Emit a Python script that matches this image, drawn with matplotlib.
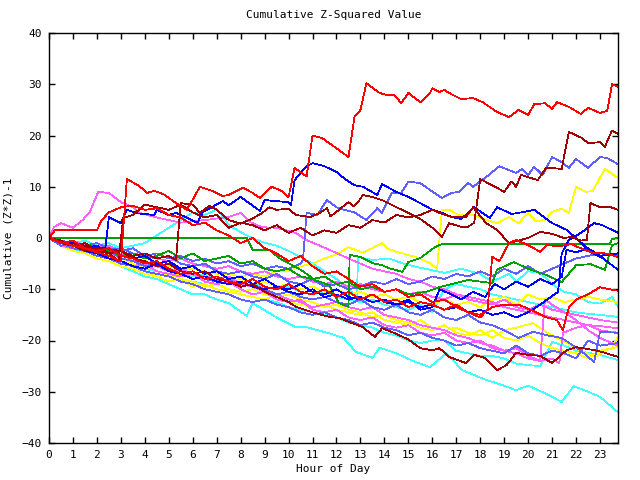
"""Cumulative Z-squared value per hour of day, gnuplot-style line chart."""

import matplotlib

matplotlib.use("Agg")
import matplotlib.pyplot as plt  # noqa: E402

# colours used by the original gnuplot terminal
RED = "#ff0000"
DARKRED = "#a00000"
GREEN = "#00a000"
BLUE = "#0000ff"
LIGHTBLUE = "#6060ff"
MAGENTA = "#ff60ff"
CYAN = "#40ffff"
YELLOW = "#ffff00"

# each series: (hour, cumulative value) points
red_top = [(0, 0), (0.5, -0.8), (1, -1.5), (1.5, -2), (2, -2.8), (2.5, -3.5), (3.0, -4.6),
           (3.25, 11.5), (3.75, 10.2), (4.1, 8.8), (4.4, 9.2), (4.8, 8.5), (5.3, 6.8),
           (5.75, 5.5), (6.0, 7.5), (6.3, 10), (6.75, 9.3), (7.25, 8.2), (7.5, 8.4),
           (8.1, 9.8), (8.5, 8.8), (8.8, 7.8), (9.3, 10), (9.7, 9.2), (10.0, 8),
           (10.25, 13.7), (10.6, 12.5), (10.75, 12), (11.0, 20), (11.4, 19.5), (12.0, 17.5),
           (12.5, 15.8), (12.75, 23.6), (13.0, 25), (13.25, 30.2), (13.8, 28.3), (14.1, 27.9),
           (14.4, 28), (14.7, 26.3), (15, 28.3), (15.5, 26.5), (15.9, 28.3), (16.0, 29.2),
           (16.3, 28.5), (16.5, 28.9), (16.7, 28.3), (17.2, 27.1), (17.7, 27.3), (18.1, 26.5),
           (18.7, 24.6), (19.2, 23.6), (19.6, 25), (20, 24), (20.25, 26.1), (20.7, 26.3),
           (21, 25.2), (21.2, 26.5), (21.7, 25.6), (22.2, 24.2), (22.5, 25.4), (23, 24.4),
           (23.3, 24.8), (23.5, 30), (23.75, 29.5)]

red_mid = [(0, 0), (0.25, 1.5), (1, 1.5), (2, 1.5), (2.2, 3.5), (2.5, 5), (3, 6), (3.5, 6.3),
           (4, 5.5), (4.5, 5.8), (5, 4.5), (5.5, 4), (6, 2.5), (6.5, 3), (7, 1.5), (7.5, 0.5),
           (8, -1), (8.5, 0), (9, -2), (9.5, -3), (10, -4.5), (10.5, -3.5), (11, -5.5),
           (11.5, -7), (12, -6.5), (12.5, -8), (13, -9.5), (13.5, -9), (14, -10.5), (14.5, -10),
           (15, -11.5), (15.5, -11), (16, -12.5), (16.5, -12), (17, -13.5), (17.5, -14.5),
           (18, -15), (18.5, -13.5), (19, -13), (19.6, -13), (20.3, -14.4), (20.7, -15.4),
           (21.2, -16), (21.45, -18), (21.7, -13.5), (22, -12), (22.5, -11), (23, -9.6),
           (23.4, -10), (23.75, -10.3)]

red_low = [(0, 0), (0.5, -1), (1, -0.5), (1.5, -2), (2, -2.5), (2.5, -2), (3, -3.5), (3.5, -4),
           (4, -5), (4.5, -4.5), (5, -6), (5.5, -7), (6, -6.5), (6.5, -8), (7, -7.5), (7.5, -8.5),
           (8, -9), (8.5, -8), (9, -9.5), (9.5, -10), (10, -9), (10.5, -10.5), (11, -11),
           (11.5, -10), (12, -11.5), (12.5, -10.5), (13, -12), (13.5, -11), (14, -12.5),
           (14.5, -12), (15, -13.5), (15.5, -12.5), (16, -13), (16.5, -14), (17, -13),
           (17.5, -14.5), (18, -15.5), (18.3, -14), (18.5, -3.7), (18.8, -4.5), (19.2, -1),
           (19.5, -0.4), (20, -1.4), (20.5, -2.7), (20.8, -1.4), (21.3, -1.6), (21.8, -1.2),
           (22.2, -2), (22.7, -2.9), (23.2, -3), (23.75, -3.7)]

darkred_high = [(0, 0), (0.5, -0.5), (1, -1.5), (2, -2), (3, -2.5), (3.5, -3.5), (4, -3),
                (4.5, -4), (5, -3.5), (5.3, -4.3), (5.5, 6.8), (6, 6.5), (6.3, 4.9), (6.7, 6.3),
                (7, 5.5), (7.5, 3.5), (8, 2.8), (8.5, 3.8), (8.9, 4.9), (9.2, 6), (9.5, 5.5),
                (10, 5.7), (10.3, 4.5), (10.9, 4.1), (11.3, 4.9), (11.6, 5.8), (11.75, 4.2),
                (12.1, 5.5), (12.5, 7), (12.7, 6.2), (12.9, 7), (13.1, 8.4), (13.5, 8), (13.9, 7.4),
                (14.5, 6), (15.0, 4.9), (15.5, 3.7), (16, 2), (16.4, 0.2), (16.7, 2.9),
                (17.25, 2.1), (17.5, 2.2), (17.75, 3), (18.0, 11.5), (18.7, 9.8), (19, 9),
                (19.3, 11), (19.5, 10), (19.7, 12.3), (20.4, 11.3), (20.75, 13.7), (21.4, 13.5),
                (21.7, 20.7), (22.25, 19.5), (22.5, 18.5), (23.0, 18.7), (23.2, 17.8), (23.5, 21),
                (23.75, 20.3)]

darkred_mid = [(0, 0), (0.5, -1), (1, -1.5), (1.5, -2.5), (2, -2), (2.5, -3), (2.9, -4.5),
               (3.1, 3.9), (3.5, 4.5), (4, 6.5), (4.5, 6), (5, 5.5), (5.5, 6.5), (6, 5), (6.5, 4),
               (7, 4.5), (7.5, 2), (8, 3), (8.5, 2.5), (9, 1.5), (9.5, 2.5), (10, 1), (10.5, 2),
               (11, 0.5), (11.5, 1.5), (12, 1), (12.5, 2.5), (13, 2), (13.5, 3.5), (14, 3),
               (14.5, 4.5), (15, 4), (15.5, 4.5), (16, 5.5), (16.3, 4.9), (16.8, 4.1), (17.4, 4.1),
               (17.7, 6), (18.25, 2.9), (18.7, 1.6), (19.2, -1), (19.6, -0.5), (20, 0), (20.5, 1.2),
               (21, 0.8), (21.5, 0), (21.8, 0.2), (22.2, -0.5), (22.45, -0.4), (22.6, 6.8),
               (23, 6), (23.4, 6.1), (23.75, 5.5)]

darkred_low = [(0, 0), (0.5, -0.8), (1, -1.5), (1.5, -1), (2, -2.5), (2.5, -3), (3, -2.5),
               (3.5, -4), (4, -4.5), (4.5, -5.5), (5, -5), (5.5, -6.5), (6, -7), (6.5, -6.5),
               (7, -8), (7.5, -8.5), (8, -9.5), (8.5, -9), (9, -10.5), (9.5, -11.5), (10, -12.5),
               (10.3, -13.4), (11, -14.5), (11.7, -15.4), (12.1, -15.6), (12.6, -16.5),
               (13.1, -17.4), (13.6, -19.3), (13.9, -17.6), (14.4, -18.5), (15, -19.8),
               (15.5, -21.5), (16, -21.9), (16.3, -21.5), (16.7, -23.2), (17.4, -24.4),
               (17.75, -22.8), (18.2, -23.4), (18.7, -25.8), (19.1, -24.8), (19.5, -22.4),
               (20, -22.8), (20.5, -23), (21, -24.4), (21.6, -21.9), (22, -21.3), (22.8, -21.9),
               (23.2, -22.4), (23.75, -23.2)]

blue_high = [(0, 0), (0.5, -0.8), (1, -1), (1.5, -1.5), (2, -1.8), (2.35, -2), (2.5, 4.1),
             (3, 2.9), (3.25, 5.5), (3.7, 4.8), (4.4, 4.5), (4.5, 5.5), (5, 4.5), (5.3, 4.9),
             (5.8, 3.9), (6.2, 2.9), (6.4, 5), (7.25, 7.2), (7.5, 6.4), (8, 8), (8.8, 5.3),
             (9, 7.4), (10, 7), (10.1, 6.4), (10.25, 11.3), (10.75, 14), (11, 14.6), (11.5, 14),
             (12, 12.9), (12.3, 11.7), (12.75, 10.3), (13.1, 10), (13.4, 9.2), (13.7, 8.4),
             (13.9, 10.5), (14.5, 9), (15, 8), (15.5, 6.8), (16, 5.5), (16.4, 4.9), (16.8, 4.1),
             (17.2, 3.7), (17.75, 6), (18.4, 3.9), (18.7, 6), (19.3, 4.7), (19.6, 4.9),
             (20.25, 5.5), (21, 2.9), (21.6, 1.6), (22.1, -0.4), (22.6, -2.7), (23.1, -3.9),
             (23.75, -6.2)]

blue_rise = [(0, 0), (0.5, -1), (1, -1.5), (1.5, -2.5), (2, -3), (2.5, -4), (3, -4.5), (3.5, -5.5),
             (4, -6), (4.5, -5), (5, -6.5), (5.5, -7), (6, -8), (6.5, -7.5), (7, -8.5), (7.5, -9),
             (8, -8.5), (8.5, -9.5), (9, -10), (9.5, -9.5), (10, -10.5), (10.5, -11), (11, -10),
             (11.5, -11.5), (12, -11), (12.5, -12), (13, -11.5), (13.5, -12.5), (14, -12),
             (14.5, -13), (15, -12.5), (15.5, -13.5), (16, -13), (16.5, -14), (17, -13.5),
             (17.5, -14.5), (18, -14), (18.5, -15), (19, -14.5), (19.5, -15.5), (20, -14.5),
             (20.5, -13), (20.8, -12), (21.25, -10.5), (21.4, -3), (21.7, -0.4), (22.2, 1),
             (22.75, 2.9), (23.1, 2.5), (23.75, 1)]

blue_mid = [(0, 0), (0.5, -0.5), (1, -1.5), (1.5, -2), (2, -1.5), (2.5, -3), (3, -2.5), (3.5, -4),
            (4, -3.5), (4.5, -5), (5, -4.5), (5.5, -6), (6, -5.5), (6.5, -7), (7, -6.5), (7.5, -8),
            (8, -7.5), (8.5, -9), (9, -8), (9.5, -9.5), (10, -10), (10.5, -9), (11, -10.5),
            (11.5, -11), (12, -10), (12.5, -11.5), (13, -12), (13.5, -11), (14, -12.5),
            (14.5, -13), (15, -12), (15.5, -14), (16, -13.5), (16.3, -10), (16.8, -11),
            (17.2, -12), (17.7, -10.5), (18.2, -11.5), (18.6, -9), (19, -10), (19.5, -8.5),
            (20, -9.5), (20.5, -8), (21, -9), (21.4, -7.6), (21.6, -2.3), (22, -2.8), (22.5, -2),
            (23, -3.5), (23.75, -3)]

lightblue_high = [(0, 0), (0.5, -1), (1, -1.5), (1.5, -1), (2, -2), (2.5, -2.5), (3, -2),
                  (3.5, -3), (4, -3.5), (4.5, -3), (5, -4), (5.5, -3.5), (6, -4.5), (6.5, -4),
                  (7, -5), (7.5, -4.5), (8, -5.5), (8.5, -5), (9, -6), (9.5, -5.5), (10, -6),
                  (10.5, -5), (10.6, -4.3), (10.75, 4.9), (11.2, 4.5), (11.6, 7.4), (12, 6),
                  (12.3, 5.5), (12.75, 5), (13.25, 3.5), (13.7, 5.8), (13.9, 4.9), (14.3, 8.8),
                  (14.7, 8.8), (15, 11), (15.5, 10.7), (15.9, 9.4), (16.4, 7.8), (16.8, 8.8),
                  (17.1, 9), (17.5, 10.7), (17.7, 10), (18.25, 11.9), (18.8, 14), (19.5, 12.7),
                  (19.75, 13.5), (20, 12.3), (20.25, 13.9), (20.6, 12.3), (21, 15.8), (21.4, 14.8),
                  (21.7, 13.7), (22, 15.4), (22.5, 13.7), (23, 15.8), (23.3, 15.6), (23.75, 14.4)]

lightblue_b = [(0, 0), (0.5, -1.5), (1, -1), (1.5, -2.5), (2, -3), (2.5, -2.5), (3, -4), (3.5, -4.5),
               (4, -5.5), (4.5, -5), (5, -6.5), (5.5, -7), (6, -6.5), (6.5, -8), (7, -8.5),
               (7.5, -8), (8, -9.5), (8.5, -9), (9, -10), (9.5, -11), (10, -10.5), (10.5, -11.5),
               (11, -12), (11.5, -11.5), (12, -12.5), (12.5, -13), (13, -12), (13.5, -13.5),
               (14, -14), (14.5, -13), (15, -14.5), (15.5, -15), (16, -14), (16.5, -15.5),
               (17, -16), (17.5, -15), (18, -16.5), (18.5, -17), (19, -18), (19.6, -19.5),
               (20.2, -18.3), (20.8, -19), (21.4, -19.5), (22.2, -22), (22.75, -24.2), (23, -18.3),
               (23.75, -18.5)]

lightblue_c = [(0, 0), (0.5, -0.5), (1, -1), (1.5, -1.5), (2, -1), (2.5, -2), (3, -2.5), (3.5, -2),
               (4, -3.5), (4.5, -4), (5, -3.5), (5.5, -5), (6, -5.5), (6.5, -5), (7, -6.5),
               (7.5, -7), (8, -6.5), (8.5, -7.5), (9, -8), (9.5, -7), (10, -8.5), (10.5, -9),
               (11, -8), (11.5, -9.5), (12, -9), (12.5, -10), (13, -9.5), (13.5, -8.5), (14, -9),
               (14.5, -8), (15, -9), (15.5, -8.5), (16, -7.5), (16.5, -8), (17, -7),
               (17.5, -7.5), (18, -6.5), (18.5, -7.5), (19, -6), (19.5, -7), (20, -5.5),
               (20.5, -7), (21, -6), (21.5, -5), (22, -4), (22.5, -3.5), (23, -3), (23.75, -3.3)]

lightblue_d = [(0, 0), (0.5, -1), (1, -2), (1.5, -2.5), (2, -3.5), (2.5, -4), (3, -5), (3.5, -5.5),
               (4, -6.5), (4.5, -7), (5, -7.5), (5.5, -8.5), (6, -9), (6.5, -10), (7, -10.5),
               (7.5, -11), (8, -12), (8.5, -12.5), (9, -12), (9.5, -13), (10, -13.5), (10.5, -14.5),
               (11, -15), (11.5, -14.5), (12, -15.5), (12.5, -16), (13, -17), (13.5, -16.5),
               (14, -17.5), (14.5, -18), (15, -19), (15.5, -18.5), (16, -19.5), (16.5, -20),
               (17, -21), (17.5, -20.5), (18, -21.5), (18.5, -22), (19, -22.5), (19.5, -21),
               (20, -22.5), (20.5, -23), (21, -22), (21.5, -22.5), (22, -23.5), (22.5, -20),
               (23, -21), (23.75, -20.5)]

yellow_high = [(0, 0), (0.5, -1), (1, -2), (1.5, -2.5), (2, -3), (2.5, -3.5), (3, -4), (3.5, -4.5),
               (4, -4.5), (4.5, -5), (5, -5.5), (5.5, -6), (6, -6), (6.5, -6.5), (7, -7), (7.5, -7),
               (8, -7.5), (8.5, -7), (9, -7.5), (9.5, -6.5), (10, -6.5), (10.5, -5.5), (11, -5),
               (11.5, -4), (12.1, -3), (12.5, -1.8), (13.1, -2.9), (13.5, -2), (13.9, -1),
               (14.1, -2), (14.5, -2.7), (15.3, -3.7), (15.9, -4.9), (16.2, -6), (16.4, 5.5),
               (16.7, 5.5), (17.1, 4.5), (17.75, 4.5), (18, 3.9), (18.7, 2.9), (19.2, 4.1),
               (19.6, 2.9), (20, 4.9), (20.3, 3.3), (20.7, 3.5), (21, 5.1), (21.4, 5.7),
               (21.7, 4.9), (22, 10), (22.4, 9), (22.7, 9.2), (23.2, 13.5), (23.75, 11.7)]

yellow_b = [(0, 0), (0.5, -1), (1, -1.5), (1.5, -2.5), (2, -2), (2.5, -3.5), (3, -4), (3.5, -5),
            (4, -6), (4.5, -5.5), (5, -6.5), (5.5, -7.5), (6, -7), (6.5, -8), (7, -7.5), (7.5, -8.5),
            (8, -8), (8.5, -9), (9, -8.5), (9.5, -9.5), (10, -9), (10.5, -10), (11, -9.5),
            (11.5, -10.5), (12, -10), (12.5, -11), (13, -10.5), (13.5, -11.5), (14, -11),
            (14.5, -12), (15, -11.5), (15.5, -12.5), (16, -13), (16.5, -12), (17, -13),
            (17.5, -12.5), (18, -13.5), (18.5, -12), (19, -11.5), (19.5, -13), (20, -11),
            (20.5, -12), (21, -11.5), (21.5, -12.5), (22, -12), (22.5, -11.5), (23, -12),
            (23.75, -12.5)]

yellow_c = [(0, 0), (0.5, -1.5), (1, -2.5), (1.5, -3), (2, -4), (2.5, -4.5), (3, -5.5), (3.5, -6),
            (4, -7), (4.5, -7.5), (5, -8.5), (5.5, -8), (6, -9.5), (6.5, -9), (7, -10),
            (7.5, -10.5), (8, -11), (8.5, -11.5), (9, -12), (9.5, -11), (10, -12.5), (10.5, -13),
            (11, -13.5), (11.5, -13), (12, -14), (12.5, -14.5), (13, -15), (13.5, -14.5),
            (14, -16), (14.5, -16.5), (15, -17), (15.5, -16), (16, -17.5), (16.5, -18),
            (17, -17.5), (17.5, -18.5), (18, -19), (18.5, -18), (19, -19.5), (19.5, -20),
            (20, -19), (20.5, -20.5), (21, -21.5), (21.5, -22), (22, -22.5), (22.5, -23.5),
            (23, -22), (23.5, -21.5), (23.75, -19.3)]

yellow_d = [(0, 0), (0.5, -0.5), (1, -1.5), (1.5, -2), (2, -3), (2.5, -4), (3, -4.5), (3.5, -5.5),
            (4, -6.5), (4.5, -7.5), (5, -7), (5.5, -8), (6, -8.5), (6.5, -9.5), (7, -9),
            (7.5, -10), (8, -10.5), (8.5, -10), (9, -11), (9.5, -11.5), (10, -11), (10.5, -12),
            (11, -12.5), (11.5, -13.5), (12, -13), (12.5, -14), (13, -14.5), (13.5, -15.5),
            (14, -15), (14.5, -16), (15, -16.5), (15.5, -17.5), (16, -18), (16.5, -17),
            (17, -18.5), (17.5, -19), (18, -18), (18.5, -19.5), (19, -18), (19.5, -17.5),
            (20.2, -16.6), (20.8, -18.5), (21.4, -19.9), (22.2, -22), (22.8, -23.2),
            (23.3, -21.8), (23.75, -21.2)]

green_flat = [(0, 0), (8.25, 0), (8.5, -2.3), (9.2, -2.3), (9.6, -3.9), (10.5, -6.2), (10.75, -7),
              (11.1, -8.2), (11.7, -9.2), (12.1, -12.7), (12.5, -13.4), (12.55, -3.3), (13, -3.7),
              (13.5, -4.9), (13.9, -5.3), (14.2, -5.9), (14.75, -6.6), (15, -4.7), (15.5, -3.9),
              (16.1, -1.8), (16.4, -1.2), (23.4, -1.2), (23.5, -0.2), (23.75, 0)]

green_b = [(0, 0), (0.5, -0.5), (1, -1.5), (1.5, -1), (2, -2), (2.5, -2.5), (3, -3.5), (3.5, -3),
           (4, -4), (4.5, -3.5), (5, -2.5), (5.5, -4), (6, -3), (6.5, -4.5), (7, -4), (7.5, -3.5),
           (8, -5), (8.5, -4.5), (9, -6), (9.5, -6.5), (10, -6), (10.5, -7.5), (11, -8),
           (11.5, -7.5), (12, -9), (12.5, -8.5), (13, -10), (13.5, -9.5), (14, -10.5), (14.5, -10),
           (15, -11), (15.75, -10.5), (16.3, -9.6), (16.8, -9), (17.5, -8.2), (18, -8.5),
           (18.5, -8.8), (18.7, -6.2), (19.4, -4.7), (20, -6), (20.75, -7.2), (21.4, -8.6),
           (22, -5.3), (22.6, -5.1), (23.2, -6.2), (23.5, -1.4), (23.75, -1)]

cyan_a = [(0, 0), (0.5, -0.5), (1, -1), (1.5, -0.5), (2, -1.5), (2.5, -1), (3, -2), (3.5, -1.5),
          (4, -1), (4.5, 0.5), (5, 2), (5.5, 3.5), (6, 5), (6.5, 4.5), (7, 5.5), (7.3, 4),
          (7.5, 2.5), (8.25, 0.5), (8.9, -0.8), (9.5, -1.5), (10, -2.5), (10.5, -3.7), (11, -5),
          (11.5, -6.5), (12, -8), (12.5, -10), (12.85, -11.5), (12.9, -3.7), (13.5, -4.3),
          (14.2, -4), (14.8, -5), (15.5, -5.8), (15.9, -6.2), (16.5, -6.8), (17.2, -6), (18, -7),
          (18.5, -8.5), (19.2, -7), (19.5, -8.5), (20, -6.5), (20.5, -6.8), (21, -9),
          (21.5, -10.5), (22, -11), (22.5, -12.5), (23, -12.8), (23.5, -11.5), (23.75, -13.4)]

cyan_b = [(0, 0), (0.5, -1), (1, -2), (1.5, -2.5), (2, -3.5), (2.5, -3), (3, -4.5), (3.5, -5.5),
          (4, -6), (4.5, -6.5), (5, -7), (5.5, -8), (6, -8.5), (6.5, -9), (7, -10), (7.5, -10.5),
          (8, -11), (8.5, -11.5), (9, -12), (9.5, -12.5), (10, -13.5), (10.5, -14), (11, -14.5),
          (11.5, -15), (12, -15.5), (12.5, -16.5), (13, -17), (13.5, -17.5), (14, -18.5),
          (14.5, -19), (15, -20), (15.5, -20.5), (16, -20), (16.5, -20), (17, -22), (17.5, -22.5),
          (18, -23), (18.5, -23), (19, -23.5), (19.5, -24.5), (20, -24.8), (20.5, -25),
          (21, -20.3), (21.5, -21), (22, -22), (22.5, -22.4), (23, -22.8), (23.75, -23.8)]

cyan_c = [(0, 0), (0.5, -1.5), (1, -2), (1.5, -3), (2, -4), (2.5, -4.5), (3, -5.5), (3.5, -6.5),
          (4, -7.5), (4.5, -8), (5, -9), (5.5, -10), (6, -11), (6.5, -11), (7, -12), (7.5, -12.7),
          (8.25, -15.2), (8.5, -12.7), (8.9, -13.8), (9.5, -15.5), (10.3, -17.4), (10.75, -17.4),
          (11.7, -18.6), (12.3, -19.5), (12.8, -22.2), (13.5, -23.4), (13.8, -21.4), (14.5, -22.5),
          (15.2, -24), (15.9, -25.2), (16.2, -24), (16.6, -22.5), (17.25, -25.8), (18.25, -27.7),
          (18.8, -28.5), (19.5, -29.7), (20, -28.8), (20.8, -30.5), (21.4, -32), (21.9, -28.9),
          (22.5, -30), (23, -31), (23.75, -34)]

cyan_d = [(0, 0), (0.5, -1), (1, -1.5), (1.5, -2), (2, -3), (2.5, -3.5), (3, -4), (3.5, -4.5),
          (4, -5.5), (4.5, -5), (5, -6), (5.5, -6.5), (6, -7.5), (6.5, -7), (7, -8), (7.5, -8.5),
          (8, -8), (8.5, -9), (9, -9.5), (9.5, -10), (10, -9.5), (10.5, -10.5), (11, -11),
          (11.5, -10.5), (12, -11.5), (12.5, -12), (13, -12.5), (13.5, -12), (14, -13),
          (14.5, -13.5), (15, -14), (15.5, -13), (16, -14.5), (16.5, -10), (17, -9), (17.5, -9.5),
          (18, -10), (18.5, -11), (19, -11.5), (19.5, -12), (20, -12.5), (20.5, -13), (21, -13.5),
          (21.5, -14), (22, -14.5), (22.5, -14.8), (23, -15), (23.75, -15.4)]

magenta_a = [(0, 0), (0.2, 2.1), (0.5, 2.9), (1, 2), (1.4, 3.5), (1.7, 5), (2.05, 9), (2.5, 8.8),
             (3, 7), (3.5, 6), (3.8, 4.9), (4.5, 4), (5.5, 3), (6.5, 3.5), (7.5, 4.1), (8, 4.9),
             (8.4, 3.1), (8.9, 2.1), (9.5, 2), (10.3, 1), (10.75, -0.4), (11.7, -2.3), (12.5, -4),
             (13, -5), (13.5, -6), (14, -6.5), (14.5, -7), (15, -8), (15.5, -8.5), (16, -9.5),
             (16.5, -10), (17, -11), (17.5, -11.5), (18, -12), (18.5, -12.5), (19, -13.5),
             (19.5, -14), (20, -14.5), (20.5, -15), (21, -15.5), (21.5, -16), (22, -16.5),
             (22.5, -17), (23, -17.2), (23.75, -17.6)]

magenta_b = [(0, 0), (0.5, -1), (1, -0.5), (1.5, -1.5), (2, -2), (2.5, -1.5), (3, -2.5),
             (3.5, -3.5), (4, -3), (4.5, -4), (5, -4.5), (5.5, -4), (6, -5), (6.5, -5.5), (7, -6),
             (7.5, -5.5), (8, -6.5), (8.5, -7), (9, -6.5), (9.5, -7.5), (10, -8), (10.5, -7.5),
             (11, -8.5), (11.5, -9), (12, -8.5), (12.5, -9.5), (13, -9), (13.5, -10), (14, -10.5),
             (14.5, -10), (15, -11), (15.5, -10.5), (16, -11.5), (16.5, -12), (17, -11),
             (17.5, -12), (18, -12.5), (18.5, -13), (19, -12), (19.5, -13.5), (20, -14),
             (20.5, -13), (21, -14), (21.5, -14.5), (22, -15), (22.5, -15.5), (23, -16),
             (23.75, -16.5)]

magenta_c = [(0, 0), (0.5, -1.5), (1, -2), (1.5, -2.5), (2, -3.5), (2.5, -4), (3, -4.5), (3.5, -5.5),
             (4, -5), (4.5, -6.5), (5, -7), (5.5, -7.5), (6, -7), (6.5, -8.5), (7, -9), (7.5, -8.5),
             (8, -10), (8.5, -11), (9, -10.5), (9.5, -12), (10, -12.5), (10.5, -12), (11, -14),
             (11.5, -14.5), (12, -14), (12.5, -15.5), (13, -16), (13.5, -15.5), (14, -17),
             (14.5, -17.5), (15, -17), (15.5, -18.5), (16, -19), (16.5, -18.5), (17, -20),
             (17.5, -20.5), (18, -20), (18.5, -21.5), (19, -22), (19.5, -21.5), (20, -23),
             (20.5, -24), (21, -23.5), (21.3, -24.4), (21.45, -18.5), (22, -17.5), (22.5, -17),
             (23, -18), (23.75, -18.5)]

magenta_d = [(0, 0), (0.5, -1), (1, -1.5), (1.5, -2), (2, -3), (2.5, -3.5), (3, -3), (3.5, -4.5),
             (4, -5), (4.5, -5.5), (5, -6.5), (5.5, -6), (6, -7), (6.5, -7.5), (7, -8), (7.5, -7.5),
             (8, -9), (8.5, -9.5), (9, -10.5), (9.5, -11), (10, -12), (10.5, -12.5), (11, -13.5),
             (11.5, -13), (12, -12.5), (12.5, -13.5), (13, -14), (13.5, -13.5), (14, -15),
             (14.5, -15.5), (15, -16), (15.5, -17), (16, -17.5), (16.5, -18), (17, -19),
             (17.5, -19.5), (18, -20.5), (18.5, -21), (19, -22), (19.5, -22.5), (20, -23.5),
             (20.5, -24), (20.7, -12), (21, -13), (21.5, -14.5), (22, -16), (22.5, -18),
             (23, -19.5), (23.75, -21)]

SERIES = [
    (cyan_c, CYAN), (cyan_b, CYAN), (cyan_d, CYAN), (cyan_a, CYAN),
    (yellow_d, YELLOW), (yellow_c, YELLOW), (yellow_b, YELLOW), (yellow_high, YELLOW),
    (magenta_d, MAGENTA), (magenta_c, MAGENTA), (magenta_b, MAGENTA), (magenta_a, MAGENTA),
    (lightblue_d, LIGHTBLUE), (lightblue_b, LIGHTBLUE), (lightblue_c, LIGHTBLUE),
    (lightblue_high, LIGHTBLUE),
    (green_b, GREEN), (green_flat, GREEN),
    (blue_mid, BLUE), (blue_rise, BLUE), (blue_high, BLUE),
    (darkred_low, DARKRED), (darkred_mid, DARKRED), (darkred_high, DARKRED),
    (red_low, RED), (red_mid, RED), (red_top, RED),
]

FONT = "DejaVu Sans Mono"

fig = plt.figure(figsize=(6.4, 4.8), dpi=100)
ax = fig.add_axes([49 / 640, 37 / 480, 569 / 640, 410 / 480])

for points, colour in SERIES:
    hours = [p[0] for p in points]
    values = [p[1] for p in points]
    ax.plot(hours, values, color=colour, linewidth=0.55, antialiased=False)

ax.set_xlim(0, 23.75)
ax.set_ylim(-40, 40)
ax.set_xticks(range(0, 24))
ax.set_yticks(range(-40, 41, 10))
ax.tick_params(direction="in", length=4, width=1, top=True, right=True,
               labelsize=8, pad=5)
for label in ax.get_xticklabels() + ax.get_yticklabels():
    label.set_family(FONT)
for spine in ax.spines.values():
    spine.set_linewidth(1)

ax.set_title("Cumulative Z-Squared Value", fontsize=8, family=FONT, pad=11)
ax.set_xlabel("Hour of Day", fontsize=8, family=FONT, labelpad=3)
ax.set_ylabel("Cumulative (Z*Z)-1", fontsize=8, family=FONT, labelpad=6)

fig.savefig("out.png", dpi=100)
